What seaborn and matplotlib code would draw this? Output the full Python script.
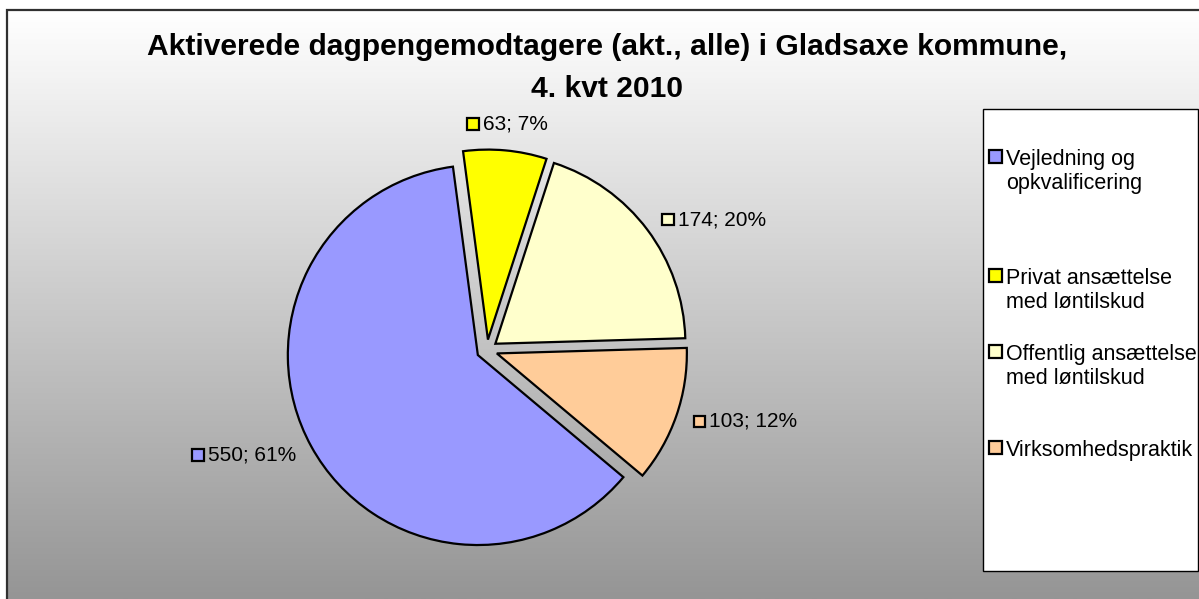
import textwrap
import numpy as np
import matplotlib
matplotlib.use("Agg")
import matplotlib.pyplot as plt
import seaborn as sns
from matplotlib.patches import Rectangle
from matplotlib.offsetbox import DrawingArea, TextArea, HPacker, AnnotationBbox

# ---- data ----
categories = ["Vejledning og opkvalificering",
              "Privat ansættelse med løntilskud",
              "Offentlig ansættelse med løntilskud",
              "Virksomhedspraktik"]
values = [550, 63, 174, 103]
percent_labels = [61, 7, 20, 12]
colors = ["#9999FF", "#FFFF00", "#FFFFCC", "#FFCC99"]
title = "Aktiverede dagpengemodtagere (akt., alle) i Gladsaxe kommune,\n4. kvt 2010"

sns.set_theme(style="white")
plt.rcParams["font.family"] = ["Liberation Sans", "DejaVu Sans"]

W, H = 1199, 599
fig = plt.figure(figsize=(W / 100, H / 100), dpi=100)
fig.patch.set_facecolor("white")

def fx(x):
    return x / W

def fy(y):
    return 1 - y / H

# background gradient inside the chart border
bg = fig.add_axes([fx(7), 0, 1 - fx(7), fy(10)], zorder=-10)
grad = np.linspace(1.0, 0.0, 256).reshape(-1, 1)
top, bottom = np.array([1.0, 1.0, 1.0]), np.array([0x95, 0x95, 0x95]) / 255
img = bottom + (top - bottom) * grad[..., None]
bg.imshow(img, aspect="auto", extent=[0, 1, 0, 1], interpolation="bilinear")
bg.set_axis_off()
fig.add_artist(Rectangle((fx(7), -0.1), 1.2, fy(10) + 0.1, transform=fig.transFigure,
                         fill=False, edgecolor="#303030", linewidth=1.6, zorder=-5))

# title
fig.text(fx(607), fy(68), title, ha="center", va="center", fontsize=21.6,
         fontweight="bold", linespacing=1.62, color="black")

# pie
R = 190
cx, cy = 487, 350
lim = 1.3
side = 2 * lim * R
ax = fig.add_axes([fx(cx - side / 2), fy(cy + side / 2), side / W, side / H])
ax.set_facecolor("none")
pal = sns.color_palette(colors)
wedges, _ = ax.pie(values, colors=pal, startangle=-40, counterclock=False,
                   explode=[0.055] * len(values),
                   wedgeprops=dict(edgecolor="black", linewidth=1.6))
ax.set_xlim(-lim, lim)
ax.set_ylim(-lim, lim)
ax.set_aspect("equal")
ax.set_axis_off()

for w, v, p, c in zip(wedges, values, percent_labels, pal):
    th = np.deg2rad((w.theta1 + w.theta2) / 2)
    ca, sa = np.cos(th), np.sin(th)
    r = 1.0 + 0.055 + 0.09
    xy = (r * ca, r * sa)
    bx = 0.5 if abs(ca) < 0.3 else (0.0 if ca > 0 else 1.0)
    by = 0.5 if abs(sa) < 0.9 else (0.0 if sa > 0 else 1.0)
    da = DrawingArea(10, 10, 0, 0)
    da.add_artist(Rectangle((0.8, 0.8), 8.4, 8.4, facecolor=c, edgecolor="black", linewidth=1.6))
    ta = TextArea(f"{v}; {p}%", textprops=dict(fontsize=15, color="black"))
    box = HPacker(children=[da, ta], align="center", pad=0, sep=2)
    ab = AnnotationBbox(box, xy, xycoords="data", box_alignment=(bx, by),
                        frameon=False, pad=0, annotation_clip=False)
    ax.add_artist(ab)

# legend
fig.add_artist(Rectangle((fx(983), fy(571)), fx(1198) - fx(983), fy(109) - fy(571),
                         transform=fig.transFigure, facecolor="white",
                         edgecolor="black", linewidth=1.0, zorder=5))
legend_y = [156, 275, 351, 447]
for cat, c, yc in zip(categories, pal, legend_y):
    fig.add_artist(Rectangle((fx(988.5), fy(yc + 6.5)), 13 / W, 13 / H,
                             transform=fig.transFigure, facecolor=c,
                             edgecolor="black", linewidth=1.6, zorder=6))
    fig.text(fx(1006), fy(yc - 7), textwrap.fill(cat, 20), ha="left", va="top",
             fontsize=15.5, linespacing=1.2, color="black", zorder=7)

fig.savefig("out.png", dpi=100)
